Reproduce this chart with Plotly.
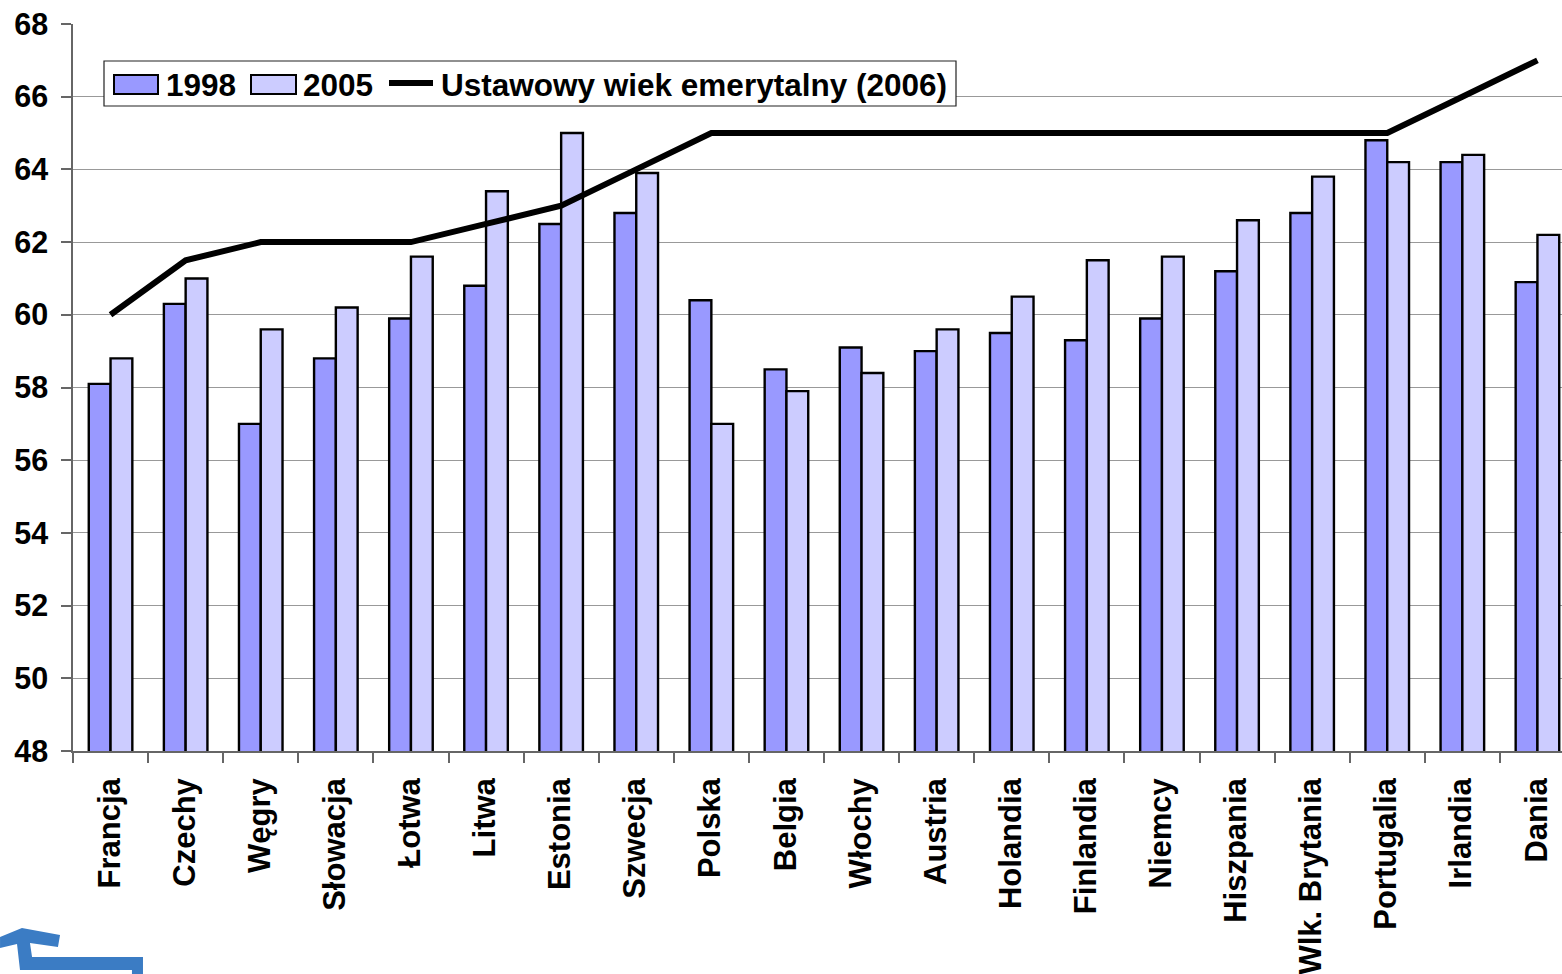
import plotly.graph_objects as go

categories = ["Francja", "Czechy", "Węgry", "Słowacja", "Łotwa", "Litwa", "Estonia", "Szwecja", "Polska", "Belgia",
              "Włochy", "Austria", "Holandia", "Finlandia", "Niemcy", "Hiszpania", "Wlk. Brytania", "Portugalia", "Irlandia", "Dania"]
v1998 = [58.1, 60.3, 57.0, 58.8, 59.9, 60.8, 62.5, 62.8, 60.4, 58.5, 59.1, 59.0, 59.5, 59.3, 59.9, 61.2, 62.8, 64.8, 64.2, 60.9]
v2005 = [58.8, 61.0, 59.6, 60.2, 61.6, 63.4, 65.0, 63.9, 57.0, 57.9, 58.4, 59.6, 60.5, 61.5, 61.6, 62.6, 63.8, 64.2, 64.4, 62.2]
ustawowy = [60, 61.5, 62, 62, 62, 62.5, 63, 64, 65, 65, 65, 65, 65, 65, 65, 65, 65, 65, 66, 67]
y_ticks = list(range(48, 70, 2))
names = ["1998", "2005", "Ustawowy wiek emerytalny (2006)"]

W, H = 1562, 974
L, T, B = 73, 24, 751
STEP = 75.1
FONT = "Liberation Sans"

def X(px): return (px - L) / (W - L)
def Y(py): return (B - py) / (B - T)

fig = go.Figure()
fig.add_bar(x=categories, y=v1998, name=names[0], marker=dict(color="#9999FF", line=dict(color="black", width=2.4)))
fig.add_bar(x=categories, y=v2005, name=names[1], marker=dict(color="#CCCCFF", line=dict(color="black", width=2.4)))
fig.add_scatter(x=categories, y=ustawowy, name=names[2], mode="lines", line=dict(color="black", width=6))

def rect(x0, y0, x1, y1, fill, line="black", w=2):
    return dict(type="rect", xref="paper", yref="paper", x0=X(x0), x1=X(x1), y0=Y(y0), y1=Y(y1),
                fillcolor=fill, line=dict(color=line, width=w), layer="above")

logo_pts = [(0, 937), (22, 928), (60, 935), (58, 947), (30, 943), (32, 957), (143, 957), (143, 974),
            (132, 974), (132, 970), (20, 970), (17, 944), (0, 948)]
logo_path = "M" + " L".join(f"{X(a):.4f},{Y(b):.4f}" for a, b in logo_pts) + " Z"

shapes = [
    rect(104, 61, 956, 106, "white", "#222222", 1.2),
    rect(114, 75, 158, 94, "#9999FF"),
    rect(251, 75, 296, 94, "#CCCCFF"),
    dict(type="line", xref="paper", yref="paper", x0=X(389), x1=X(433), y0=Y(83), y1=Y(83),
         line=dict(color="black", width=6), layer="above"),
    dict(type="path", xref="paper", yref="paper", path=logo_path, fillcolor="#3B7CC4", line=dict(width=0), layer="above"),
]
annotations = [
    dict(xref="paper", yref="paper", x=X(px), y=Y(85.5), text=t, showarrow=False, xanchor="left", yanchor="middle",
         font=dict(family=FONT, size=31.5, color="black", weight=700))
    for px, t in zip([164, 301, 439], names)
]

fig.update_layout(
    width=W, height=H, autosize=False,
    margin=dict(l=L, r=0, t=T, b=H - B, pad=0),
    paper_bgcolor="white", plot_bgcolor="white",
    barmode="group", bargap=0.42, bargroupgap=0,
    showlegend=False, shapes=shapes, annotations=annotations,
    font=dict(family=FONT, color="black"),
    xaxis=dict(type="category", range=[-0.5, (W - L) / STEP - 0.5], tickson="boundaries", ticks="outside",
               ticklen=10, tickwidth=1.5, tickcolor="#666666", showgrid=False, showline=True, linecolor="#666666",
               linewidth=1.5, tickangle=-90, ticklabelstandoff=13, ticklabelshift=-1, automargin=False,
               tickfont=dict(family=FONT, size=31, color="black", weight=700)),
    yaxis=dict(range=[48, 68], tickvals=y_ticks, ticks="outside", ticklen=10, tickwidth=1.5, tickcolor="#666666",
               showgrid=True, gridcolor="#999999", gridwidth=1, showline=True, linecolor="#666666", linewidth=1.5,
               zeroline=False, automargin=False, ticklabelstandoff=7,
               tickfont=dict(family=FONT, size=30.5, color="black", weight=700)),
)
fig.write_html("out.html", config={"displayModeBar": False},
               post_script="document.body.style.margin='0';document.documentElement.style.overflow='hidden';window.dispatchEvent(new Event('resize'));")
